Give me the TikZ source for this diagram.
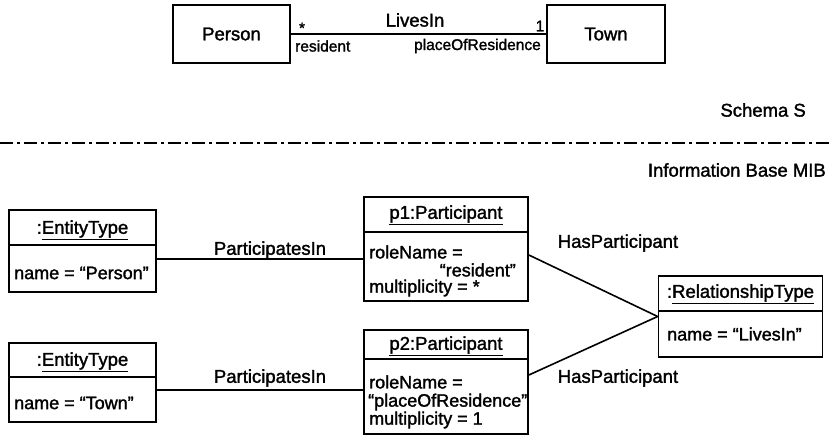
\documentclass[tikz,border=0pt]{standalone}
\usepackage{fontspec}
\setmainfont{Liberation Sans}[FakeBold=1.6]
\begin{document}
\begin{tikzpicture}[x=1pt,y=-1pt,
  box/.style={draw, line width=1.7pt, inner sep=0pt, font=\fontsize{18.5}{20}\selectfont},
  link/.style={line width=1.6pt},
  lbl/.style={inner sep=0pt, font=\fontsize{18.5}{20}\selectfont},
  role/.style={inner sep=0pt, font=\fontsize{15.5}{17}\selectfont},
  attr/.style={inner sep=0pt, anchor=west, font=\fontsize{18}{20}\selectfont},
  divider/.style={line width=1.5pt}
  ]
\useasboundingbox (0,0) rectangle (832,436);

% ---------- schema level ----------
\node[box, minimum width=117pt, minimum height=58pt] (person) at (231.5,34) {Person};
\node[box, minimum width=118pt, minimum height=58pt] (town) at (606,34) {Town};
\draw[link] (person.east) -- (town.east -| town.west);
\node[lbl] (livesin) at (415,20) {LivesIn};
\node[role] (mstar) at (302,28) {*};
\node[role] (mone) at (540,26) {1};
\node[role, anchor=west] (rres) at (295,46) {resident};
\node[role, anchor=east] (rplace) at (541,46) {placeOfResidence};

% ---------- level separator ----------
\node[lbl, anchor=east] (schema) at (806,110) {Schema S};
\coordinate (sepL) at (0,143);
\coordinate (sepR) at (832,143);
\draw[line width=2pt, dash pattern=on 13pt off 4pt on 3pt off 4pt] (sepL) -- (sepR);
\node[lbl, anchor=east] (mib) at (826,170) {Information Base MIB};

% ---------- information base objects ----------
% :EntityType (Person)
\node[box, minimum width=147pt, minimum height=82pt] (et1) at (82.5,251) {};
\node[lbl] (et1t) at (82.5,230) {:\underline{EntityType}};
\draw[divider] (et1.west |- 0,245) -- (et1.east |- 0,245);
\node[attr] (et1a) at (14,273) {name = “Person”};

% :EntityType (Town)
\node[box, minimum width=147pt, minimum height=79pt] (et2) at (82.5,382.5) {};
\node[lbl] (et2t) at (82.5,362) {:\underline{EntityType}};
\draw[divider] (et2.west |- 0,377) -- (et2.east |- 0,377);
\node[attr] (et2a) at (14,403) {name = “Town”};

% p1:Participant
\node[box, minimum width=164pt, minimum height=104pt] (p1) at (446,249) {};
\node[lbl] (p1t) at (446,215) {\underline{p1:Participant}};
\draw[divider] (p1.west |- 0,232) -- (p1.east |- 0,232);
\node[attr] (p1a) at (369,252) {roleName =};
\node[attr, anchor=east] (p1b) at (516,270) {“resident”};
\node[attr] (p1c) at (369,288) {multiplicity = *};

% p2:Participant
\node[box, minimum width=164pt, minimum height=104pt] (p2) at (446,382) {};
\node[lbl] (p2t) at (446,346) {\underline{p2:Participant}};
\draw[divider] (p2.west |- 0,359) -- (p2.east |- 0,359);
\node[attr] (p2a) at (369,382) {roleName =};
\node[attr] (p2b) at (368,402) {“placeOfResidence”};
\node[attr] (p2c) at (369,420) {multiplicity = 1};

% :RelationshipType
\node[box, minimum width=164pt, minimum height=81pt] (rt) at (740.5,316.5) {};
\node[lbl] (rtt) at (740.5,294) {:\underline{RelationshipType}};
\draw[divider] (rt.west |- 0,311) -- (rt.east |- 0,311);
\node[attr] (rta) at (667,334) {name = “LivesIn”};

% ---------- links ----------
\draw[link] (et1.east |- 0,259) -- (p1.west |- 0,259);
\node[lbl] (pi1) at (270,250) {ParticipatesIn};
\draw[link] (et2.east |- 0,390) -- (p2.west |- 0,390);
\node[lbl] (pi2) at (270,378) {ParticipatesIn};

\draw[link] ([yshift=-6pt]p1.east) -- (rt.west);
\node[lbl] (hp1) at (618,243) {HasParticipant};
\draw[link] ([yshift=7pt]p2.east) -- (rt.west);
\node[lbl] (hp2) at (618,378) {HasParticipant};
\end{tikzpicture}
\end{document}
